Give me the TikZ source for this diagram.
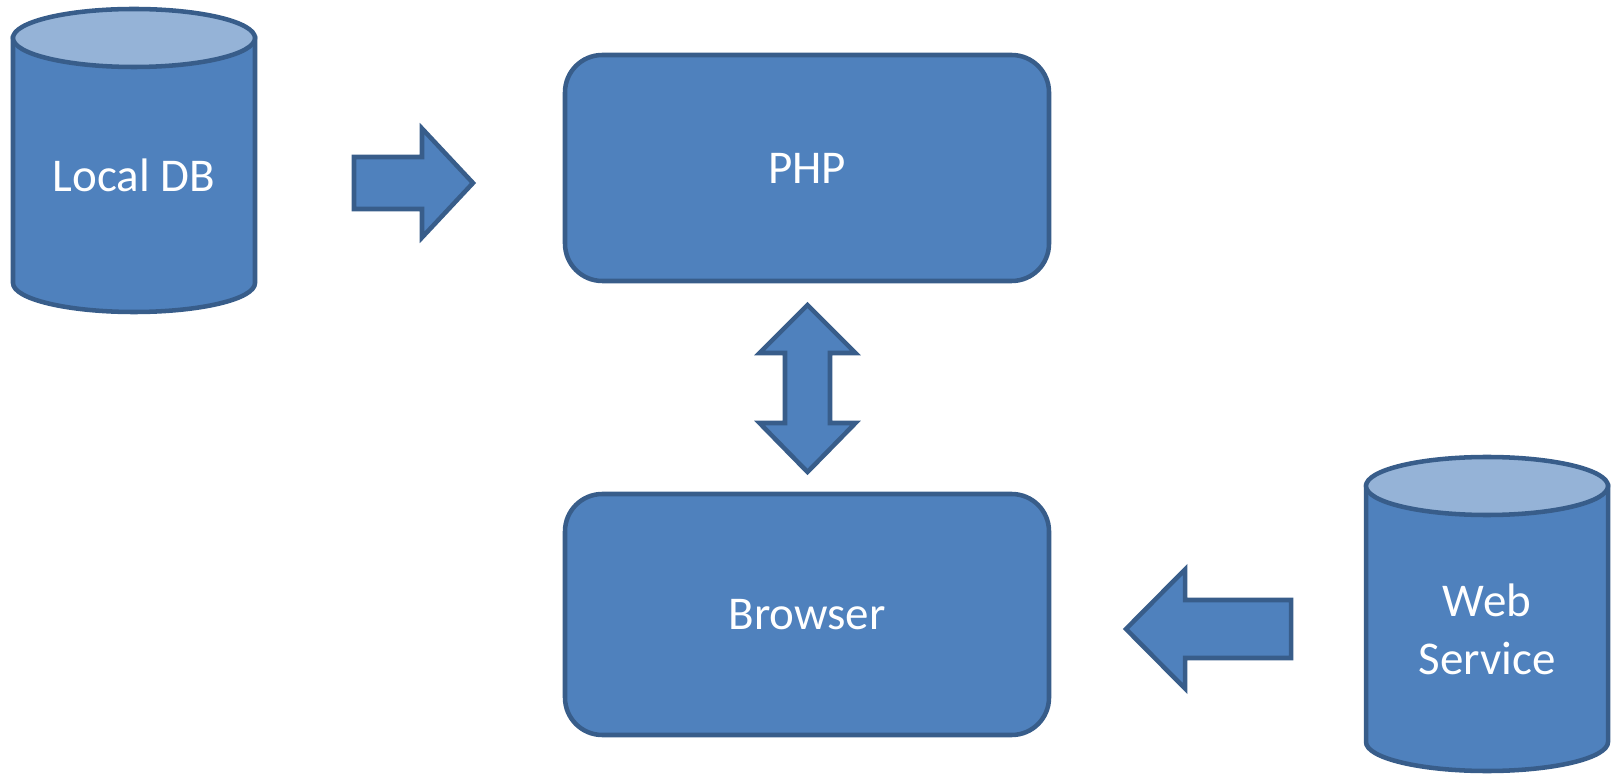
\documentclass[tikz,border=0pt]{standalone}
\usepackage{fontspec}
\setmainfont{Carlito}
\definecolor{blockfill}{HTML}{4F81BD}
\definecolor{blockline}{HTML}{385D8A}
\definecolor{lidfill}{HTML}{95B3D7}
\begin{document}
\begin{tikzpicture}[x=0.75pt,y=0.75pt,
  shapeline/.style={draw=blockline, line width=3.4pt, fill=blockfill},
  lid/.style={draw=blockline, line width=3.4pt, fill=lidfill},
  blocktext/.style={text=white, font=\fontsize{35.25}{43.5}\selectfont},
  procbox/.style={shapeline, rounded corners=28pt, minimum width=363pt, blocktext},
  bigarrow/.style={shapeline, line join=miter, miter limit=10}]
\useasboundingbox (0,0) rectangle (1616,775);

% Local database cylinder
\draw[shapeline] (13,737) -- (13,492) arc[start angle=180, end angle=360, x radius=121, y radius=29] -- (255,737) -- cycle;
\draw[lid] (134,737) ellipse[x radius=121, y radius=29];
\node[blocktext, anchor=base] (localdb) at (134,583) {Local DB};

% Web service cylinder
\draw[shapeline] (1366,289) -- (1366,33) arc[start angle=180, end angle=360, x radius=121, y radius=29] -- (1608,289) -- cycle;
\draw[lid] (1487,289) ellipse[x radius=121, y radius=29];
\node[blocktext, align=center] (websvc) at (1487,145.5) {Web\\Service};

% Server and client blocks
\node[procbox, minimum height=169.5pt] (php) at (807,607) {PHP};
\node[procbox, minimum height=180.75pt] (browser) at (807,160.5) {Browser};

% Block arrows between the parts
\draw[bigarrow] (354,618) -- (422,618) -- (422,646.5) -- (473,592) -- (422,537.5) -- (422,566) -- (354,566) -- cycle;
\draw[bigarrow] (807.5,470) -- (855.5,422) -- (830,422) -- (830,352) -- (855.5,352) -- (807.5,303)
  -- (759.5,352) -- (785,352) -- (785,422) -- (759.5,422) -- cycle;
\draw[bigarrow] (1291,175) -- (1185,175) -- (1185,205.5) -- (1126,146) -- (1185,86.5) -- (1185,117) -- (1291,117) -- cycle;
\end{tikzpicture}
\end{document}
